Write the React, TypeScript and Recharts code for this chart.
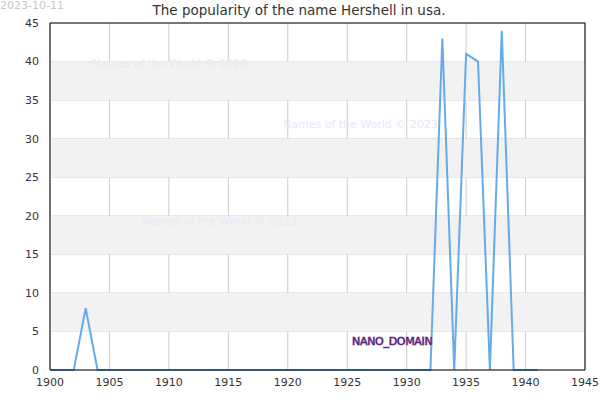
import React from "react";
import { CartesianGrid, Line, LineChart, ReferenceArea, ReferenceLine, XAxis, YAxis } from "recharts";

// popularity of Hershell in usa, per year
const years = [
  1900, 1901, 1902, 1903, 1904, 1905, 1906, 1907, 1908, 1909,
  1910, 1911, 1912, 1913, 1914, 1915, 1916, 1917, 1918, 1919,
  1920, 1921, 1922, 1923, 1924, 1925, 1926, 1927, 1928, 1929,
  1930, 1931, 1932, 1933, 1934, 1935, 1936, 1937, 1938, 1939,
  1940, 1941,
];
const counts = [
  0, 0, 0, 8, 0, 0, 0, 0, 0, 0,
  0, 0, 0, 0, 0, 0, 0, 0, 0, 0,
  0, 0, 0, 0, 0, 0, 0, 0, 0, 0,
  0, 0, 0, 43, 0, 41, 40, 0, 44, 0,
  0, 0,
];
const xTicks = [1900, 1905, 1910, 1915, 1920, 1925, 1930, 1935, 1940, 1945];
const yTicks = [0, 5, 10, 15, 20, 25, 30, 35, 40, 45];
const bands = [[5, 10], [15, 20], [25, 30], [35, 40]];

const title = "The popularity of the name Hershell in usa.";
const dateLabel = "2023-10-11";
const watermark = "Names of the World © 2023";

const data = years.map((y, i) => ({ year: y, value: counts[i] }));

const font = "'DejaVu Sans', sans-serif";

function Overlay() {
  return (
    <svg
      width={600}
      height={400}
      style={{ position: "absolute", left: 0, top: 0, pointerEvents: "none" }}
      fontFamily={font}
    >
      <text x={0} y={9} fontSize={11} fill="#c8c8c8">{dateLabel}</text>
      <text x={299} y={15} fontSize={13.5} fill="#333" textAnchor="middle">{title}</text>
      <text x={92} y={67} fontSize={11} fill="#e8e8f8">{watermark}</text>
      <text x={283} y={128} fontSize={11} fill="#e8e8f8">{watermark}</text>
      <text x={142} y={225} fontSize={11} fill="#e8e8f8">{watermark}</text>
      <text
        x={352}
        y={345}
        fontSize={11}
        letterSpacing={-0.3}
        fill="#4a1a60"
        stroke="#b890d0"
        strokeWidth={1.2}
        paintOrder="stroke"
      >
        NANO_DOMAIN
      </text>
    </svg>
  );
}

export default function App() {
  return (
    <div style={{ position: "absolute", left: 0, top: 0, width: 600, height: 400 }}>
      <LineChart width={600} height={400} data={data} margin={{ top: 23, right: 15, bottom: 0, left: 0 }}>
        {bands.map(([a, b]) => (
          <ReferenceArea key={a} y1={a} y2={b} fill="#f2f2f2" fillOpacity={1} stroke="none" />
        ))}
        <CartesianGrid vertical={false} stroke="#dddddd" />
        <CartesianGrid horizontal={false} stroke="#cccccc" />
        <XAxis
          dataKey="year"
          type="number"
          domain={[1900, 1945]}
          ticks={xTicks}
          height={30}
          stroke="#000"
          tickLine={false}
          tick={{ fill: "#333", fontSize: 11, fontFamily: font }}
          tickMargin={2}
        />
        <YAxis
          type="number"
          domain={[0, 45]}
          ticks={yTicks}
          width={50}
          stroke="#000"
          tickLine={false}
          tick={{ fill: "#333", fontSize: 11, fontFamily: font }}
          tickMargin={5}
        />
        <ReferenceLine y={45} stroke="#000" />
        <ReferenceLine x={1945} stroke="#000" />
        <Line
          type="linear"
          dataKey="value"
          stroke="#66aaee"
          strokeWidth={2}
          dot={false}
          isAnimationActive={false}
        />
      </LineChart>
      <Overlay />
    </div>
  );
}
